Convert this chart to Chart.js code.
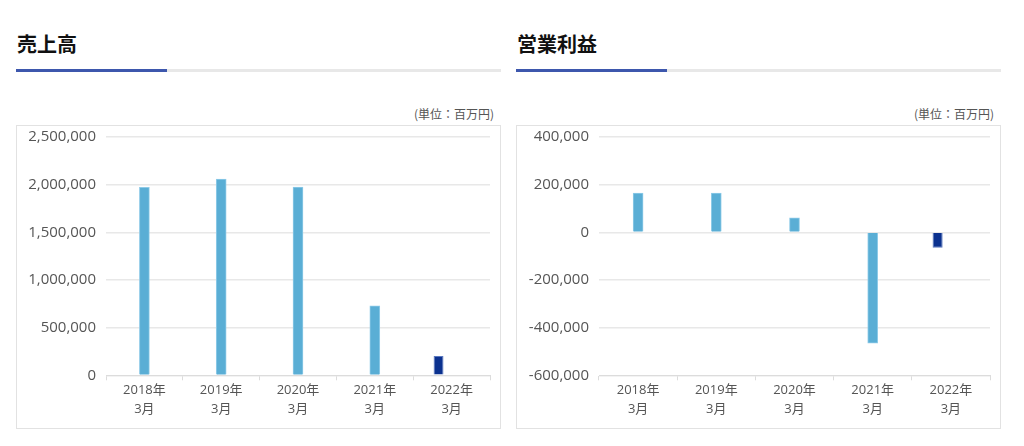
<!DOCTYPE html>
<html lang="ja">
<head>
<meta charset="utf-8">
<script src="https://cdn.jsdelivr.net/npm/chart.js@4/dist/chart.umd.min.js"></script>
<style>
    body { margin: 0; background: #fff; font-family: 'Open Sans', 'Noto Sans CJK JP', sans-serif; }
    .panel { position: absolute; top: 0; width: 485px; height: 446px; }
    .panel h2 { position: absolute; left: 1px; top: 29px; margin: 0; font-size: 20px; font-weight: bold; color: #111; font-family: 'Noto Sans CJK JP', sans-serif; }
    .rule { position: absolute; left: 0; top: 69px; width: 485px; height: 3px; background: #e8e8e8; }
    .rule span { display: block; width: 151px; height: 3px; background: #3d57ad; }
    .unit { position: absolute; right: 7px; top: 105px; font-size: 12px; color: #555; font-family: 'Noto Sans CJK JP', sans-serif; }
    .box { position: absolute; left: 0; top: 125px; width: 483px; height: 302px; border: 1px solid #e2e2e2; }
    .box canvas { position: absolute; left: 0; top: -8px; }
</style>
</head>
<body>
<div class="panel" style="left:16px">
    <h2>売上高</h2>
    <div class="rule"><span></span></div>
    <div class="unit">(単位：百万円)</div>
    <div class="box"><canvas id="salesChart" width="483" height="310"></canvas></div>
</div>
<div class="panel" style="left:516px">
    <h2>営業利益</h2>
    <div class="rule"><span></span></div>
    <div class="unit">(単位：百万円)</div>
    <div class="box"><canvas id="profitChart" width="483" height="310"></canvas></div>
</div>
<script>
// Fiscal years (last one is the latest quarter, drawn in dark blue)
const years = [['2018年', '3月'], ['2019年', '3月'], ['2020年', '3月'], ['2021年', '3月'], ['2022年', '3月']];

const salesActual = [1971799, 2058312, 1974216, 728683, null];
const salesLatest = [null, null, null, null, 202924];

const profitActual = [164516, 165019, 60806, -464774, null];
const profitLatest = [null, null, null, null, -64755];

const salesTicks = [0, 500000, 1000000, 1500000, 2000000, 2500000];
const profitTicks = [-600000, -400000, -200000, 0, 200000, 400000];

const lightBlue = '#5aaed5';
const darkBlue = '#0b318f';
const gridColor = '#e8e8e8';

const makeChart = (id, actual, latest, ticks, axisWidth) => {
    const ctx = document.getElementById(id);
    return new Chart(ctx.getContext('2d'), {
        type: 'bar',
        data: {
            labels: years,
            datasets: [{
                label: '実績',
                data: actual,
                backgroundColor: lightBlue,
                borderColor: '#8fcbe8',
                borderWidth: 1,
                grouped: false,
                barThickness: 10
            }, {
                label: '最新',
                data: latest,
                backgroundColor: darkBlue,
                borderColor: '#5a78c0',
                borderWidth: 1,
                categoryPercentage: 0.68,
                barPercentage: 0.38
            }, {
                // empty slot so the latest bar sits left of its category centre
                label: '',
                data: [null, null, null, null, null],
                categoryPercentage: 0.68,
                barPercentage: 0.38
            }]
        },
        options: {
            responsive: false,
            animation: false,
            layout: { padding: { top: 0, right: 10, bottom: 8, left: 0 } },
            plugins: {
                legend: { display: false },
                tooltip: { enabled: false }
            },
            scales: {
                x: {
                    grid: { drawOnChartArea: false, tickLength: 5, color: '#dcdcdc', offset: true },
                    border: { color: '#dcdcdc' },
                    ticks: {
                        color: '#555',
                        padding: 1,
                        font: { size: 13, lineHeight: 1.45, family: "'Open Sans', 'Noto Sans CJK JP', sans-serif" }
                    }
                },
                y: {
                    min: ticks[0],
                    max: ticks[ticks.length - 1],
                    afterBuildTicks: scale => { scale.ticks = ticks.map(v => ({ value: v })); },
                    afterFit: scale => { scale.width = axisWidth; },
                    grid: { color: gridColor, drawTicks: false, lineWidth: 1.5 },
                    border: { display: false },
                    ticks: {
                        color: '#555',
                        padding: 10,
                        font: { size: 15, family: "'Open Sans', 'Noto Sans CJK JP', sans-serif" },
                        callback: v => v.toLocaleString('en-US')
                    }
                }
            }
        }
    });
};

document.addEventListener('DOMContentLoaded', () => {
    makeChart('salesChart', salesActual, salesLatest, salesTicks, 89);
    makeChart('profitChart', profitActual, profitLatest, profitTicks, 82);
});
</script>
</body>
</html>
